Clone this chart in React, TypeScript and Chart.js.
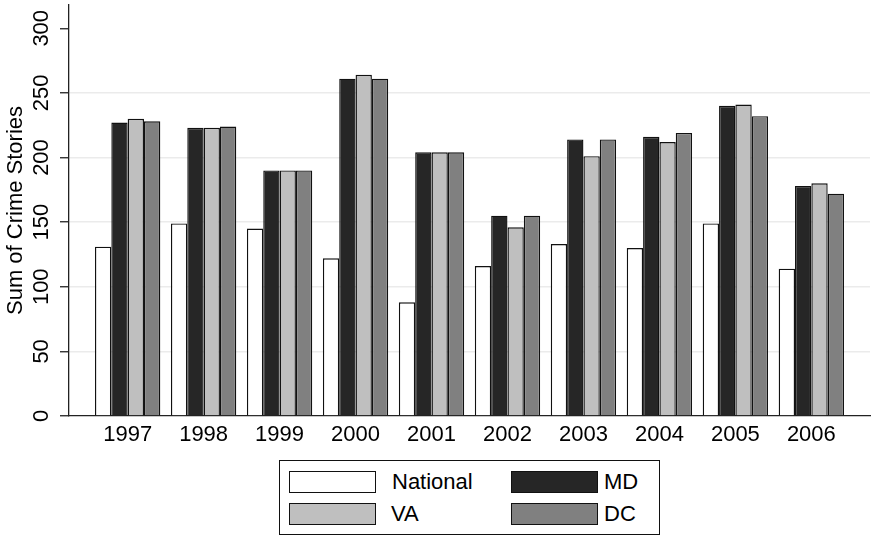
import React, { useEffect, useRef } from "react";
import { Chart, registerables } from "chart.js";

Chart.register(...registerables);

const years = [1997, 1998, 1999, 2000, 2001, 2002, 2003, 2004, 2005, 2006];
const national = [131, 149, 145, 122, 88, 116, 133, 130, 149, 114];
const md = [227, 223, 190, 261, 204, 155, 214, 216, 240, 178];
const va = [230, 223, 190, 264, 204, 146, 201, 212, 241, 180];
const dc = [228, 224, 190, 261, 204, 155, 214, 219, 232, 172];
const yTicks = [0, 50, 100, 150, 200, 250, 300];

const seriesNames = ["National", "MD", "VA", "DC"];
const seriesColors = ["#ffffff", "#262626", "#bfbfbf", "#808080"];

const FONT = "'Liberation Sans', Arial, Helvetica, sans-serif";

export default function App() {
  const ref = useRef<HTMLCanvasElement | null>(null);

  useEffect(() => {
    if (!ref.current) return;
    const all = [national, md, va, dc];
    const chart = new Chart(ref.current, {
      type: "bar",
      data: {
        datasets: all.map((arr, i) => ({
          label: seriesNames[i],
          data: arr.map((v, j) => ({ x: years[j], y: v })),
          backgroundColor: seriesColors[i],
          borderColor: "#111111",
          borderWidth: 1.4,
          categoryPercentage: 0.86,
          barPercentage: 1.0,
        })),
      },
      options: {
        animation: false,
        responsive: false,
        layout: { padding: { left: 0, right: 1, top: 5, bottom: 86 } },
        plugins: { legend: { display: false }, tooltip: { enabled: false } },
        scales: {
          x: {
            type: "linear",
            offset: false,
            min: years[0] - 0.772,
            max: years[years.length - 1] + 0.772,
            afterBuildTicks: (s: any) => {
              s.ticks = years.map((v) => ({ value: v }));
            },
            afterFit: (s: any) => {
              s.height = 35;
              s.paddingLeft = 0;
              s.paddingRight = 0;
              s.paddingTop = 0;
              s.paddingBottom = 0;
            },
            grid: { display: false, drawTicks: false, offset: false },
            border: { display: true, color: "#222222", width: 1.3 },
            ticks: {
              padding: 6,
              color: "#000000",
              font: { family: FONT, size: 22 },
              maxRotation: 0,
              minRotation: 0,
              autoSkip: false,
              callback: (v: any) => String(v),
            },
          },
          y: {
            min: 0,
            max: 318,
            afterBuildTicks: (s: any) => {
              s.ticks = yTicks.map((v) => ({ value: v }));
            },
            afterFit: (s: any) => {
              s.width = 69;
              s.paddingTop = 0;
              s.paddingBottom = 0;
              s.paddingLeft = 0;
              s.paddingRight = 0;
            },
            grid: {
              color: (c: any) =>
                c.tick && (c.tick.value === 0 || c.tick.value === 300) ? "rgba(0,0,0,0)" : "#ebebeb",
              lineWidth: 1.5,
              tickColor: "#222222",
              tickLength: 9,
              tickWidth: 1.3,
            },
            border: { display: true, color: "#222222", width: 1.3 },
            ticks: {
              padding: 0,
              color: "#000000",
              font: { family: FONT, size: 22 },
              minRotation: 90,
              maxRotation: 90,
              crossAlign: "center",
            },
            title: {
              display: true,
              text: "Sum of Crime Stories",
              color: "#000000",
              font: { family: FONT, size: 22 },
              padding: { top: 3, bottom: 0 },
            },
          },
        },
      },
    });
    return () => chart.destroy();
  }, []);

  const legendItems = [
    { name: "National", color: seriesColors[0], left: 289, top: 471, textLeft: 392 },
    { name: "MD", color: seriesColors[1], left: 511, top: 471, textLeft: 604 },
    { name: "VA", color: seriesColors[2], left: 289, top: 503, textLeft: 391 },
    { name: "DC", color: seriesColors[3], left: 511, top: 503, textLeft: 604 },
  ];

  return (
    <div style={{ position: "absolute", left: 0, top: 0, width: 871, height: 537, background: "#ffffff", overflow: "hidden" }}>
      <canvas ref={ref} width={871} height={537} style={{ position: "absolute", left: 0, top: 0, width: 871, height: 537 }} />
      <div
        style={{
          position: "absolute",
          left: 279,
          top: 460,
          width: 381,
          height: 75,
          border: "1px solid #111111",
          boxSizing: "border-box",
          background: "#ffffff",
        }}
      />
      {legendItems.map((it) => (
        <React.Fragment key={it.name}>
          <div
            style={{
              position: "absolute",
              left: it.left,
              top: it.top,
              width: 87,
              height: 22,
              background: it.color,
              border: "1px solid #111111",
              boxSizing: "border-box",
            }}
          />
          <div
            style={{
              position: "absolute",
              left: it.textLeft,
              top: it.top - 2,
              height: 26,
              lineHeight: "26px",
              fontFamily: FONT,
              fontSize: 22,
              color: "#000000",
              whiteSpace: "nowrap",
            }}
          >
            {it.name}
          </div>
        </React.Fragment>
      ))}
    </div>
  );
}
